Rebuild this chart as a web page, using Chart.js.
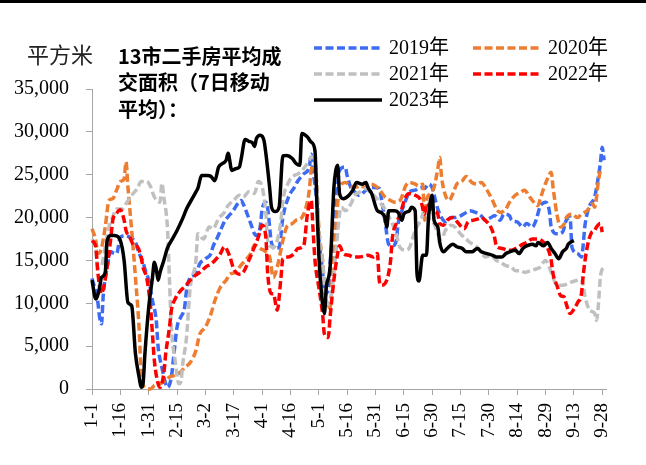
<!DOCTYPE html>
<html>
<head>
<meta charset="utf-8">
<script src="https://cdn.jsdelivr.net/npm/chart.js@4.4.1/dist/chart.umd.min.js"></script>
<style>
  html, body { margin: 0; padding: 0; background: #fff; }
  canvas { display: block; }
</style>
</head>
<body>
<canvas id="c" width="646" height="465"></canvas>
<script>
// Day index 0 = 1-1; labels every 15 days
const tickLabels = ['1-1','1-16','1-31','2-15','3-2','3-17','4-1','4-16','5-1','5-16','5-31','6-15','6-30','7-15','7-30','8-14','8-29','9-13','9-28'];
const yearNames = ['2019年','2020年','2021年','2022年','2023年'];

// [day index, 7-day average transaction area]
const s2019 = [[0,12900],[3,10300],[4,8400],[5,7600],[6,11100],[8,14200],[10,16000],[12,15800],[13,15800],[15,17700],[18,17900],[20,17700],[23,17100],[25,15800],[27,14800],[28,14000],[30,12700],[32,10300],[34,8000],[35,4900],[37,2500],[39,600],[40,200],[42,1400],[43,3300],[45,7200],[47,8400],[49,9500],[50,11500],[52,13000],[55,13400],[57,14600],[60,15200],[63,15800],[64,16600],[66,17500],[68,18500],[70,19500],[72,20100],[75,20900],[77,21600],[79,22000],[80,21600],[82,20500],[84,19300],[86,18100],[87,17900],[89,18900],[90,20900],[92,21800],[93,21000],[95,17000],[97,16400],[99,16500],[101,20000],[104,22400],[107,23500],[109,24300],[112,25100],[115,25900],[116,27400],[117,25500],[119,21600],[120,17700],[122,13800],[123,11100],[125,11500],[126,14600],[128,19700],[130,23900],[131,25500],[134,25900],[135,24900],[137,23500],[139,23000],[141,22600],[144,23000],[146,23400],[149,23500],[152,23400],[153,22400],[155,19700],[157,16900],[159,16700],[161,17300],[162,19300],[164,20800],[166,22000],[168,23000],[171,23200],[174,23500],[176,23400],[178,23900],[180,23500],[182,21800],[183,21000],[185,20000],[187,19500],[190,20000],[192,20000],[195,20200],[198,20600],[200,20800],[203,20600],[206,20200],[208,19700],[211,20000],[213,20200],[216,19700],[218,20400],[221,20200],[222,19700],[225,19500],[228,18900],[230,19300],[233,18900],[235,19700],[237,21200],[240,21800],[242,20800],[243,18900],[246,18100],[249,18300],[251,19700],[253,20000],[254,16500],[257,15800],[259,15400],[261,19300],[263,21200],[266,22400],[267,23500],[269,26300],[270,28200],[271,26700]];

const s2020 = [[0,18700],[2,17300],[3,15800],[5,16400],[7,18900],[9,22000],[11,22200],[13,23200],[15,24200],[17,24500],[18,26500],[19,23600],[21,18500],[23,13000],[25,6800],[26,1800],[28,200],[31,0],[33,400],[36,600],[39,1000],[41,1400],[44,1600],[47,2000],[49,2500],[52,3100],[55,4500],[57,6400],[60,7200],[63,8800],[65,10300],[68,11900],[71,12700],[73,13400],[76,13600],[78,14200],[81,15000],[84,15800],[86,16800],[89,16400],[92,16000],[94,15400],[96,13000],[98,14200],[101,17300],[103,18900],[106,19300],[108,19700],[111,20000],[113,21000],[115,23200],[116,25500],[118,26300],[119,23500],[120,18900],[122,15000],[123,12300],[125,9200],[126,9500],[128,15800],[130,21600],[131,23500],[134,24100],[137,23700],[139,23500],[142,23700],[145,23500],[147,23900],[150,23700],[153,23000],[155,22400],[158,22000],[160,21800],[163,22000],[166,23700],[168,24100],[171,23900],[173,23700],[175,23900],[176,19700],[177,22000],[179,22800],[181,23500],[183,25700],[184,27000],[185,24700],[187,22600],[189,22000],[191,22800],[193,23900],[196,24300],[198,24800],[201,24100],[204,23900],[206,24100],[209,23200],[212,22000],[214,21000],[216,20600],[219,21000],[221,21800],[224,22600],[227,23000],[229,23200],[231,22600],[233,22000],[236,21400],[237,22000],[239,23400],[241,24500],[243,25300],[244,23500],[246,20400],[248,18900],[250,19300],[251,20000],[254,20400],[257,20000],[259,20400],[262,20800],[265,21600],[266,21200],[268,24300],[269,25500]];

const s2021 = [[0,17500],[2,16400],[3,14200],[5,14400],[7,16600],[9,18900],[11,20100],[13,21000],[16,21000],[18,21600],[21,22600],[24,23400],[26,24200],[29,24200],[31,23600],[33,22400],[36,21800],[37,24000],[38,22400],[40,18500],[41,12700],[42,7200],[44,3300],[46,600],[47,800],[48,2900],[50,6000],[52,11900],[55,15000],[56,18100],[59,17500],[62,18900],[64,18700],[67,19900],[70,20600],[72,21400],[75,22000],[78,22600],[80,22400],[83,23000],[86,22800],[88,24200],[90,23600],[92,20500],[93,17300],[95,16600],[96,16500],[98,17300],[100,19700],[101,22000],[104,24100],[107,24900],[109,25100],[112,25700],[115,26700],[116,27100],[118,26500],[119,23500],[120,18500],[122,15000],[123,11900],[125,9900],[127,11500],[129,15800],[131,20400],[132,21200],[134,20800],[137,21600],[139,22600],[142,23000],[145,23400],[147,23000],[150,22400],[153,21600],[155,21000],[158,19700],[161,18100],[163,16500],[166,16200],[168,16500],[171,18500],[174,19700],[176,20800],[177,20400],[179,19700],[181,19300],[183,18100],[185,17500],[187,18500],[190,19100],[192,18900],[195,18100],[198,17500],[200,17100],[203,16700],[206,16000],[208,15400],[211,15600],[214,15000],[216,14800],[219,14400],[222,14200],[224,13800],[227,13800],[229,13600],[232,13800],[235,14000],[237,14200],[240,15000],[242,14200],[244,13000],[246,12100],[249,12100],[252,12300],[254,12500],[257,12700],[259,12900],[261,10700],[263,9300],[265,9000],[266,8800],[267,8000],[268,9900],[269,13000],[271,14400]];

const s2022 = [[0,17300],[2,16600],[3,13800],[5,11100],[6,11700],[8,14200],[10,17700],[11,19700],[13,20500],[15,20900],[17,19700],[18,18500],[20,17700],[22,16800],[24,16600],[26,15400],[27,14200],[29,12900],[31,9500],[32,6400],[33,3300],[35,600],[36,200],[38,1800],[39,4100],[41,7200],[42,9200],[44,10500],[47,11500],[49,11900],[52,12700],[55,13300],[57,13600],[60,14200],[63,14600],[65,15000],[68,15800],[70,16600],[71,16400],[73,15400],[75,14000],[78,13400],[80,13600],[83,15000],[86,16600],[88,17700],[90,19100],[92,17700],[93,13400],[95,11100],[96,11100],[98,9200],[100,13000],[101,15200],[104,15400],[107,15800],[109,16400],[112,16700],[114,20400],[116,22000],[117,18500],[118,15000],[120,11900],[122,8800],[123,6400],[125,6000],[126,8400],[128,12700],[130,15800],[131,16700],[133,15800],[136,15600],[138,15400],[141,15400],[144,15500],[146,15600],[149,15400],[151,15800],[152,12700],[153,12100],[156,12700],[158,15000],[159,17700],[161,19300],[163,20400],[166,22400],[168,22800],[171,22600],[174,22000],[176,20400],[177,21600],[179,21200],[181,20800],[183,20400],[184,19300],[186,19100],[188,19700],[191,20000],[194,19300],[197,18700],[199,19500],[202,19700],[205,19900],[206,20000],[208,19700],[211,18900],[213,17700],[214,16700],[217,16400],[220,16200],[222,16200],[225,16500],[228,16900],[230,17100],[233,17500],[236,17500],[238,17300],[241,16500],[243,15000],[244,13400],[246,12100],[248,10900],[250,10700],[251,9900],[253,8800],[255,9300],[257,10100],[259,11100],[260,13400],[262,16500],[264,18100],[266,18500],[267,18900],[269,19300],[270,18300]];

const s2023 = [[0,12700],[2,10500],[4,11800],[5,13000],[7,13600],[8,17300],[10,17900],[12,17900],[15,17300],[17,15000],[19,10100],[21,9700],[23,4100],[25,1300],[26,200],[27,600],[28,4100],[30,9500],[32,13000],[33,14800],[34,14000],[35,12700],[36,13600],[38,15000],[40,16500],[42,17300],[45,18500],[48,19900],[50,21000],[53,22200],[55,23000],[56,23400],[58,24900],[61,24900],[63,24800],[65,24300],[67,25900],[69,26300],[71,26700],[72,27500],[74,25500],[76,25700],[78,25900],[79,26900],[81,29100],[83,28900],[85,28700],[86,28300],[87,29200],[89,29600],[91,29000],[92,27500],[94,23500],[95,21200],[97,20700],[99,21200],[101,27200],[103,27250],[106,26900],[108,26300],[110,26100],[111,29800],[114,29400],[116,28800],[118,27800],[119,21600],[120,15800],[122,9900],[123,8800],[124,11900],[126,14200],[128,23500],[129,25500],[130,26100],[131,22800],[133,22200],[136,22600],[138,23200],[140,24100],[143,23900],[145,24100],[146,23500],[148,22800],[151,20800],[153,20600],[155,20000],[156,18900],[157,20800],[160,20800],[162,20600],[164,19700],[165,20400],[168,20800],[169,21200],[171,20800],[172,13400],[173,12600],[175,15600],[177,15600],[178,19700],[180,22600],[181,19700],[183,18900],[184,17100],[186,16000],[188,16400],[191,16900],[193,16600],[196,16400],[198,16000],[201,16000],[204,16400],[206,16000],[209,15800],[212,15600],[214,15400],[217,15400],[219,15800],[221,16000],[224,16200],[226,15800],[228,16400],[230,16700],[233,16900],[235,16700],[236,17100],[239,16700],[241,17100],[243,16400],[245,15800],[247,15200],[249,16000],[251,16400],[252,16900],[254,17200],[255,17300]];

const seriesData = [s2019, s2020, s2021, s2022, s2023];
const seriesColors = ['#3D6CF2', '#ED7D31', '#C0C0C0', '#FF0000', '#000000'];
const DASH = [8, 3.5];
const serif = "'Liberation Serif', 'Noto Sans CJK SC', serif";

const datasets = seriesData.map((d, k) => ({
  label: yearNames[k],
  data: d,
  borderColor: seriesColors[k],
  backgroundColor: seriesColors[k],
  borderWidth: 3.5,
  borderDash: k === 4 ? [] : DASH,
  pointRadius: 0,
  cubicInterpolationMode: 'monotone',
  fill: false,
  clip: 4,
  order: 4 - k
}));

// Titles, unit and legend drawn on the canvas
const decor = {
  id: 'decor',
  beforeDraw(chart) {
    const ctx = chart.ctx;
    ctx.save();
    ctx.fillStyle = '#fff';
    ctx.fillRect(0, 0, chart.width, chart.height);
    ctx.restore();
  },
  afterDraw(chart) {
    const ctx = chart.ctx;
    ctx.save();
    ctx.fillStyle = '#000';
    ctx.fillRect(0, 0, chart.width, 3);

    ctx.textBaseline = 'middle';
    ctx.textAlign = 'left';
    ctx.fillStyle = '#222';
    ctx.font = "22px 'Noto Sans CJK SC'";
    ctx.fillText('平方米', 27, 55);

    ctx.fillStyle = '#000';
    ctx.font = "bold 20px 'Noto Sans CJK SC'";
    ctx.fillText('13市二手房平均成', 118, 56);
    ctx.fillText('交面积（7日移动', 118, 82.5);
    ctx.fillText('平均）：', 118, 109);

    const items = [
      { k: 0, x: 314, y: 48 }, { k: 1, x: 473, y: 48 },
      { k: 2, x: 314, y: 74 }, { k: 3, x: 473, y: 74 },
      { k: 4, x: 314, y: 100 }
    ];
    ctx.font = '20px ' + serif;
    items.forEach(it => {
      ctx.beginPath();
      ctx.strokeStyle = seriesColors[it.k];
      ctx.lineWidth = 3.5;
      ctx.setLineDash(it.k === 4 ? [] : DASH);
      ctx.moveTo(it.x, it.y);
      ctx.lineTo(it.x + 68, it.y);
      ctx.stroke();
      ctx.setLineDash([]);
      ctx.fillStyle = '#000';
      ctx.fillText(yearNames[it.k], it.x + 75, it.y + 1);
    });
    ctx.restore();
  }
};

new Chart(document.getElementById('c'), {
  type: 'line',
  data: { datasets },
  plugins: [decor],
  options: {
    responsive: false,
    animation: false,
    devicePixelRatio: 1,
    layout: { padding: { top: 89, right: 40, left: 0, bottom: 0 } },
    plugins: { legend: { display: false }, tooltip: { enabled: false } },
    scales: {
      x: {
        type: 'linear',
        min: 0,
        max: 272,
        afterFit(scale) { scale.height = 76; },
        border: { color: '#A6A6A6', width: 1 },
        grid: { drawOnChartArea: false, drawTicks: true, tickLength: 6, color: '#A6A6A6' },
        ticks: {
          stepSize: 15,
          includeBounds: false,
          autoSkip: false,
          maxRotation: 90,
          minRotation: 90,
          padding: 8,
          color: '#000',
          font: { family: serif, size: 19 },
          callback: (v) => tickLabels[Math.round(v / 15)] ?? ''
        }
      },
      y: {
        min: 0,
        max: 35000,
        afterFit(scale) { scale.width = 92; },
        border: { color: '#A6A6A6', width: 1 },
        grid: { drawOnChartArea: false, drawTicks: true, tickLength: 6, color: '#A6A6A6' },
        ticks: {
          stepSize: 5000,
          padding: 17,
          color: '#000',
          font: { family: serif, size: 20 },
          callback: (v) => v.toLocaleString('en-US')
        }
      }
    }
  }
});
</script>
</body>
</html>
